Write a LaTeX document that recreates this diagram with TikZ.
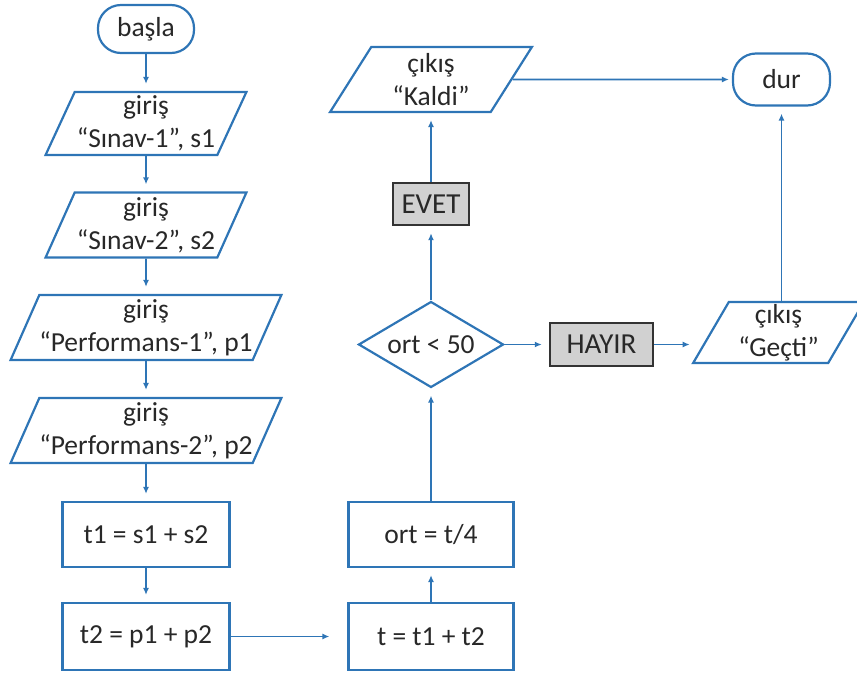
\documentclass[tikz,border=0pt]{standalone}
\usepackage{fontspec}
\setmainfont{Carlito}
\usetikzlibrary{shapes.geometric,arrows.meta,calc}
\definecolor{fblue}{RGB}{46,117,182}
\definecolor{ftext}{RGB}{40,40,40}
\begin{document}
\begin{tikzpicture}[x=1pt,y=-1pt,
 base/.style={draw=fblue,line width=2.2pt,text=ftext,font=\fontsize{27.5}{33}\selectfont,align=center,inner sep=0pt},
 term/.style={base,rectangle,rounded corners=23pt},
 io/.style={base,trapezium,trapezium left angle=63,trapezium right angle=117,trapezium stretches=true},
 proc/.style={base,rectangle},
 dec/.style={base,diamond,aspect=1.6},
 lbl/.style={draw=black!80,fill=black!18,line width=2.4pt,text=ftext,font=\fontsize{29}{33}\selectfont,inner sep=0pt,rectangle},
 arr/.style={draw=fblue,line width=1.8pt,-{Latex[length=7pt,width=6pt]},shorten >=7pt}]
\useasboundingbox (0,0) rectangle (857,677);
\clip (0,0) rectangle (857,677);
\node[term,minimum width=96pt,minimum height=48pt] (start) at (146,29) {başla};
\node[io,minimum width=201pt,minimum height=63pt] (in1) at (146,123.5) {giriş\\“Sınav-1”, s1};
\node[io,minimum width=201pt,minimum height=65pt] (in2) at (146,225) {giriş\\“Sınav-2”, s2};
\node[io,minimum width=270pt,minimum height=65pt] (in3) at (146,327.5) {giriş\\“Performans-1”, p1};
\node[io,minimum width=270pt,minimum height=65pt] (in4) at (146,430.5) {giriş\\“Performans-2”, p2};
\node[proc,minimum width=167pt,minimum height=65pt] (t1) at (146,534.5) {t1 = s1 + s2};
\node[proc,minimum width=167pt,minimum height=67pt] (t2) at (146,636.5) {t2 = p1 + p2};
\node[proc,minimum width=165pt,minimum height=67pt] (t) at (431,636.5) {t = t1 + t2};
\node[proc,minimum width=165pt,minimum height=65pt] (ort) at (431,534.5) {ort = t/4};
\node[dec,minimum width=145pt,minimum height=86pt] (c) at (431,344.5) {ort < 50};
\node[lbl,minimum width=76pt,minimum height=42pt] (evet) at (431,204) {EVET};
\node[lbl,minimum width=103pt,minimum height=43pt] (hayir) at (601.5,344.5) {HAYIR};
\node[io,minimum width=202pt,minimum height=65pt] (kaldi) at (431,79.5) {çıkış\\“Kaldi”};
\node[io,minimum width=171pt,minimum height=61pt] (gecti) at (778.5,332.5) {çıkış\\“Geçti”};
\node[term,minimum width=97pt,minimum height=52pt] (stop) at (781.5,79.5) {dur};
\draw[arr] (start) -- (in1);
\draw[arr] (in1) -- (in2);
\draw[arr] (in2) -- (in3);
\draw[arr] (in3) -- (in4);
\draw[arr] (in4) -- (t1);
\draw[arr] (t1) -- (t2);
\draw[arr,shorten >=18pt] (t2) -- (t);
\draw[arr] (t) -- (ort);
\draw[arr] (ort) -- (c);
\draw[arr] (c) -- (evet);
\draw[arr] (evet) -- (kaldi);
\draw[arr,shorten >=3pt] (kaldi) -- (stop);
\draw[arr] (c) -- (hayir);
\draw[arr,shorten >=20pt] (hayir.east) -- (hayir.east -| gecti.west);
\draw[arr] (gecti.north -| stop.south) -- (stop.south);
\end{tikzpicture}
\end{document}
